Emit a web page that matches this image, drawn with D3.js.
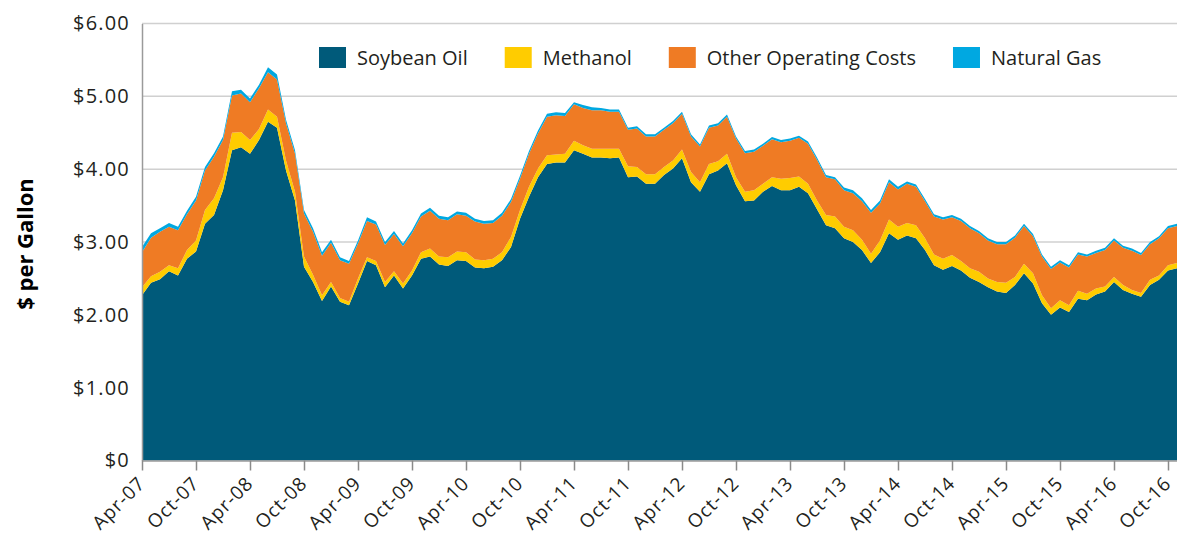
<!DOCTYPE html>
<html lang="en">
<head>
    <meta charset="UTF-8">
    <title>Biodiesel Production Cost</title>
    <style>
        body {
            margin: 0;
            background-color: #ffffff;
        }
        svg {
            display: block;
        }
    </style>
    <script src="https://d3js.org/d3.v7.min.js"></script>
</head>
<body>
    <svg width="1177" height="535"></svg>
    <script>
        // monthly, Apr-07 .. Nov-16
        const months = d3.timeMonth.range(new Date(2007, 3, 1), new Date(2016, 11, 1));
        const fmtMonth = d3.timeFormat("%b-%y");
        const monthLabels = months.map(fmtMonth);

        const seriesNames = ["Soybean Oil", "Methanol", "Other Operating Costs", "Natural Gas"];
        const seriesColors = ["#005a7a", "#ffcc00", "#ef7b24", "#00a8e1"];

        const soybeanOil = [2.27, 2.44, 2.49, 2.60, 2.54, 2.77, 2.87, 3.25, 3.37, 3.71,
            4.26, 4.30, 4.21, 4.40, 4.65, 4.57, 3.98, 3.57, 2.66, 2.45,
            2.19, 2.39, 2.18, 2.13, 2.43, 2.74, 2.68, 2.38, 2.54, 2.36,
            2.54, 2.77, 2.80, 2.69, 2.67, 2.75, 2.74, 2.65, 2.64, 2.66,
            2.75, 2.93, 3.32, 3.62, 3.89, 4.07, 4.09, 4.09, 4.26, 4.21,
            4.16, 4.16, 4.15, 4.16, 3.89, 3.90, 3.80, 3.80, 3.92, 4.01,
            4.15, 3.82, 3.69, 3.93, 3.98, 4.08, 3.78, 3.56, 3.57, 3.69,
            3.77, 3.71, 3.71, 3.76, 3.67, 3.45, 3.23, 3.19, 3.05, 3.00,
            2.89, 2.71, 2.86, 3.12, 3.03, 3.09, 3.05, 2.89, 2.68, 2.62,
            2.67, 2.61, 2.51, 2.45, 2.38, 2.32, 2.30, 2.41, 2.57, 2.43,
            2.16, 2.00, 2.10, 2.04, 2.22, 2.20, 2.28, 2.32, 2.45, 2.34,
            2.29, 2.25, 2.41, 2.48, 2.61, 2.64];

        const methanol = [0.11, 0.09, 0.10, 0.08, 0.10, 0.12, 0.15, 0.19, 0.23, 0.18,
            0.24, 0.21, 0.19, 0.15, 0.17, 0.15, 0.14, 0.12, 0.14, 0.10,
            0.08, 0.06, 0.05, 0.05, 0.07, 0.05, 0.06, 0.07, 0.06, 0.07,
            0.07, 0.09, 0.11, 0.11, 0.12, 0.12, 0.12, 0.11, 0.11, 0.11,
            0.11, 0.14, 0.12, 0.14, 0.12, 0.12, 0.11, 0.12, 0.13, 0.12,
            0.12, 0.12, 0.13, 0.12, 0.15, 0.13, 0.13, 0.13, 0.11, 0.11,
            0.12, 0.14, 0.13, 0.14, 0.13, 0.13, 0.11, 0.13, 0.14, 0.11,
            0.12, 0.16, 0.17, 0.14, 0.13, 0.12, 0.14, 0.16, 0.16, 0.16,
            0.14, 0.13, 0.16, 0.19, 0.18, 0.17, 0.18, 0.16, 0.15, 0.15,
            0.15, 0.13, 0.13, 0.14, 0.12, 0.13, 0.14, 0.11, 0.13, 0.14,
            0.11, 0.09, 0.10, 0.09, 0.11, 0.09, 0.08, 0.07, 0.07, 0.07,
            0.05, 0.05, 0.07, 0.06, 0.07, 0.07];

        const otherCosts = [0.48, 0.53, 0.55, 0.53, 0.52, 0.49, 0.55, 0.54, 0.57, 0.51,
            0.51, 0.53, 0.52, 0.56, 0.51, 0.51, 0.51, 0.52, 0.59, 0.59,
            0.54, 0.54, 0.52, 0.52, 0.48, 0.50, 0.50, 0.51, 0.51, 0.51,
            0.51, 0.49, 0.52, 0.52, 0.51, 0.51, 0.50, 0.52, 0.50, 0.49,
            0.50, 0.48, 0.43, 0.45, 0.48, 0.53, 0.54, 0.52, 0.50, 0.51,
            0.53, 0.53, 0.51, 0.51, 0.50, 0.53, 0.52, 0.52, 0.51, 0.51,
            0.49, 0.49, 0.49, 0.50, 0.49, 0.51, 0.53, 0.53, 0.53, 0.52,
            0.52, 0.50, 0.51, 0.53, 0.55, 0.56, 0.52, 0.51, 0.50, 0.51,
            0.53, 0.56, 0.51, 0.51, 0.51, 0.54, 0.53, 0.51, 0.52, 0.54,
            0.52, 0.55, 0.55, 0.53, 0.52, 0.52, 0.53, 0.54, 0.52, 0.51,
            0.53, 0.54, 0.52, 0.52, 0.50, 0.51, 0.49, 0.50, 0.50, 0.51,
            0.54, 0.52, 0.49, 0.51, 0.51, 0.51];

        const naturalGas = [0.07, 0.06, 0.05, 0.05, 0.05, 0.05, 0.05, 0.05, 0.05, 0.05,
            0.06, 0.05, 0.05, 0.05, 0.07, 0.07, 0.05, 0.05, 0.05, 0.05,
            0.05, 0.04, 0.04, 0.04, 0.04, 0.05, 0.04, 0.04, 0.04, 0.04,
            0.04, 0.04, 0.04, 0.04, 0.04, 0.04, 0.04, 0.04, 0.04, 0.04,
            0.04, 0.04, 0.04, 0.04, 0.04, 0.04, 0.04, 0.04, 0.03, 0.04,
            0.04, 0.03, 0.03, 0.03, 0.03, 0.03, 0.03, 0.03, 0.03, 0.03,
            0.03, 0.03, 0.03, 0.03, 0.03, 0.03, 0.03, 0.03, 0.03, 0.03,
            0.03, 0.03, 0.03, 0.03, 0.03, 0.03, 0.03, 0.03, 0.04, 0.04,
            0.04, 0.04, 0.04, 0.04, 0.04, 0.03, 0.03, 0.03, 0.03, 0.03,
            0.03, 0.03, 0.03, 0.03, 0.03, 0.03, 0.03, 0.03, 0.03, 0.03,
            0.03, 0.03, 0.03, 0.03, 0.03, 0.03, 0.03, 0.03, 0.03, 0.03,
            0.03, 0.03, 0.03, 0.03, 0.03, 0.03];

        const yTicks = [0, 1, 2, 3, 4, 5, 6];

        const svg = d3.select("svg");
        const width = +svg.attr("width");
        const margin = {left: 142, right: width, top: 23.5, bottom: 460.5};
        const font = "'Open Sans', sans-serif";

        const rows = monthLabels.map((m, i) => ({
            month: m,
            "Soybean Oil": soybeanOil[i],
            "Methanol": methanol[i],
            "Other Operating Costs": otherCosts[i],
            "Natural Gas": naturalGas[i]
        }));

        const x = d3.scalePoint().domain(monthLabels).range([margin.left, margin.right]);
        const y = d3.scaleLinear().domain([0, 6]).range([margin.bottom, margin.top]);

        // grid
        svg.append("g")
            .selectAll("line")
            .data(yTicks.filter(d => d > 0))
            .join("line")
            .attr("x1", margin.left)
            .attr("x2", margin.right)
            .attr("y1", d => y(d))
            .attr("y2", d => y(d))
            .attr("stroke", "#d0d0d0")
            .attr("stroke-width", 1.5);

        // stacked areas
        const stacked = d3.stack().keys(seriesNames)(rows);
        const area = d3.area()
            .x(d => x(d.data.month))
            .y0(d => y(d[0]))
            .y1(d => y(d[1]));

        svg.append("g")
            .selectAll("path")
            .data(stacked)
            .join("path")
            .attr("fill", (d, i) => seriesColors[i])
            .attr("d", area);

        // y axis
        const yAxis = svg.append("g")
            .attr("transform", `translate(${margin.left},0)`)
            .call(d3.axisLeft(y)
                .tickValues(yTicks)
                .tickSize(0)
                .tickPadding(12)
                .tickFormat(d => d === 0 ? "$0" : d3.format("$.2f")(d)));
        yAxis.select(".domain").attr("stroke", "#9a9a9a").attr("stroke-width", 1.5);
        yAxis.selectAll("text")
            .attr("font-family", font)
            .attr("font-size", 20)
            .attr("letter-spacing", 1.2)
            .attr("fill", "#231f20");

        // x axis
        const xAxis = svg.append("g")
            .attr("transform", `translate(0,${margin.bottom})`)
            .call(d3.axisBottom(x)
                .tickValues(monthLabels.filter((d, i) => i % 6 === 0))
                .tickSize(10)
                .tickSizeOuter(0));
        xAxis.select(".domain").attr("stroke", "#9a9a9a").attr("stroke-width", 1.5);
        xAxis.selectAll(".tick line").attr("stroke", "#8a8a8a").attr("stroke-width", 1.5);
        xAxis.selectAll("text")
            .attr("font-family", font)
            .attr("font-size", 19)
            .attr("letter-spacing", 1)
            .attr("fill", "#231f20")
            .attr("text-anchor", "end")
            .attr("y", 0)
            .attr("dy", 0)
            .attr("transform", "translate(4,24) rotate(-45)");

        // y title
        svg.append("text")
            .attr("transform", "translate(33,244) rotate(-90)")
            .attr("text-anchor", "middle")
            .attr("font-family", font)
            .attr("font-weight", "bold")
            .attr("font-size", 22)
            .attr("fill", "#000")
            .text("$ per Gallon");

        // legend
        const legend = svg.append("g").attr("transform", "translate(319,47)");
        let lx = 0;
        seriesNames.forEach((name, i) => {
            const item = legend.append("g").attr("transform", `translate(${lx},0)`);
            item.append("rect")
                .attr("width", 27)
                .attr("height", 21)
                .attr("fill", seriesColors[i]);
            const t = item.append("text")
                .attr("x", 38)
                .attr("y", 18)
                .attr("font-family", font)
                .attr("font-size", 20)
                .attr("fill", "#231f20")
                .text(name);
            lx += 38 + t.node().getComputedTextLength() + 37;
        });
    </script>
</body>
</html>
